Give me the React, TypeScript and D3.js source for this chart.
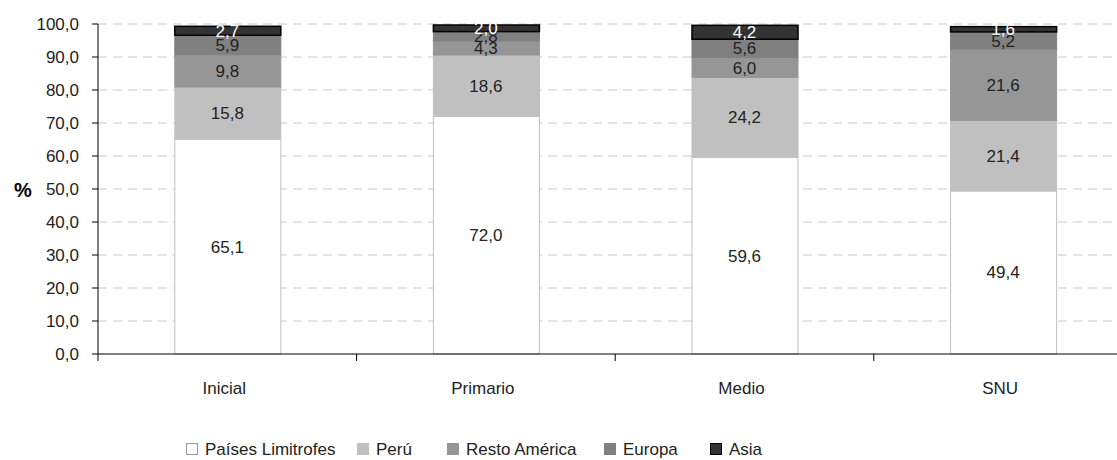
import React from "react";
import * as d3 from "d3";

const categories = ["Inicial", "Primario", "Medio", "SNU"];
const seriesNames = ["Países Limitrofes", "Perú", "Resto América", "Europa", "Asia"];
const paisesLimitrofes = [65.1, 72.0, 59.6, 49.4];
const peru = [15.8, 18.6, 24.2, 21.4];
const restoAmerica = [9.8, 4.3, 6.0, 21.6];
const europa = [5.9, 2.8, 5.6, 5.2];
const asia = [2.7, 2.0, 4.2, 1.6];
const yTicks = [0, 10, 20, 30, 40, 50, 60, 70, 80, 90, 100];

const fills = ["#ffffff", "#c0c0c0", "#969696", "#808080", "#333333"];
const strokes = ["#c0c0c0", "#c0c0c0", "#969696", "#808080", "#000000"];
const labelColors = ["#222", "#222", "#222", "#222", "#fff"];

const fmt = (v: number) => v.toFixed(1).replace(".", ",");

export default function App() {
  const W = 1117, H = 460;
  const left = 98, top = 24, bottom = 354;
  const x = d3.scaleBand<string>().domain(categories).range([left, left + 4 * 258.6]).paddingInner(0.59).paddingOuter(0.295);
  const xOuter = d3.scaleBand<string>().domain(categories).range([left, left + 4 * 258.6]);
  const y = d3.scaleLinear().domain([0, 100]).range([bottom, top]);
  const all = [paisesLimitrofes, peru, restoAmerica, europa, asia];
  const stackData = categories.map((c, i) => {
    const o: any = { cat: c };
    seriesNames.forEach((s, k) => (o[s] = all[k][i]));
    return o;
  });
  const stacked = d3.stack().keys(seriesNames)(stackData);
  const font = "'Liberation Sans', Arial, sans-serif";
  const fs = 17;
  const legendX = [186, 357, 447, 604, 710];

  return (
    <svg width={W} height={H} style={{ position: "absolute", left: 0, top: 0 }} fontFamily={font}>
      {yTicks.filter((t) => t > 0).map((t) => (
        <line key={"g" + t} x1={left} x2={W} y1={y(t)} y2={y(t)} stroke="#c8c8c8" strokeDasharray="9,6" />
      ))}
      {stacked.map((layer, k) => (
        <g key={layer.key}>
          {layer.map((d, i) => (
            <rect key={i} x={x(categories[i])! + 0.5} y={y(d[1])} width={x.bandwidth()} height={y(d[0]) - y(d[1])}
              fill={fills[k]} stroke={strokes[k]} strokeWidth={k === 4 ? 1.5 : 1} />
          ))}
        </g>
      ))}
      {stacked.map((layer, k) => (
        <g key={"l" + layer.key}>
          {layer.map((d, i) => (
            <text key={i} x={x(categories[i])! + x.bandwidth() / 2} y={(y(d[0]) + y(d[1])) / 2 + 6}
              textAnchor="middle" fontSize={fs} fill={labelColors[k]}>{fmt(d[1] - d[0])}</text>
          ))}
        </g>
      ))}
      <line x1={left} x2={left} y1={top} y2={bottom + 7} stroke="#000" />
      {yTicks.map((t) => (
        <g key={"t" + t}>
          <line x1={left - 6} x2={left} y1={y(t)} y2={y(t)} stroke="#000" />
          <text x={left - 19} y={y(t) + 6} textAnchor="end" fontSize={fs} fill="#222">{fmt(t)}</text>
        </g>
      ))}
      <line x1={left} x2={W} y1={bottom} y2={bottom} stroke="#000" />
      {categories.map((c, i) => (
        <g key={"x" + c}>
          {i > 0 && <line x1={xOuter(c)} x2={xOuter(c)} y1={bottom} y2={bottom + 7} stroke="#000" />}
          <text x={xOuter(c)! + xOuter.bandwidth() / 2 - 3} y={394} textAnchor="middle" fontSize={fs} fill="#222">{c}</text>
        </g>
      ))}
      <text x={23} y={197} fontSize={20} fontWeight="bold" textAnchor="middle" fill="#000">%</text>
      {seriesNames.map((s, k) => {
        const lx = legendX[k];
        return (
          <g key={"lg" + s}>
            <rect x={lx + 0.5} y={443.5} width={11} height={11} fill={fills[k]} stroke={k === 0 ? "#999" : k === 4 ? "#000" : strokes[k]} />
            <text x={lx + 19} y={455} fontSize={fs} fill="#222">{s}</text>
          </g>
        );
      })}
    </svg>
  );
}
